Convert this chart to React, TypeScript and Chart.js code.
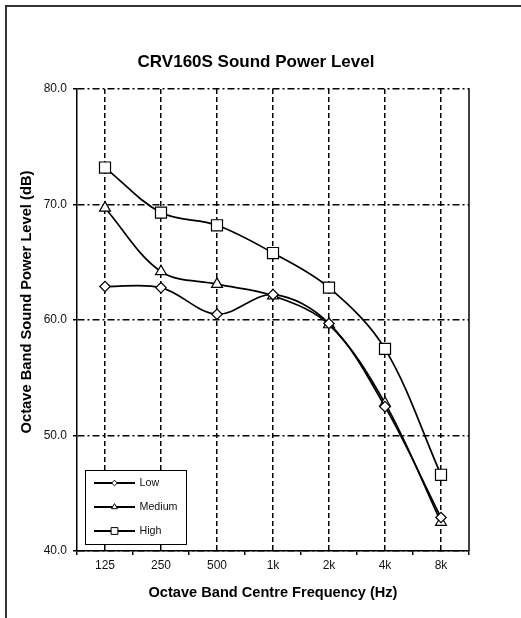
import React, { useEffect, useRef } from 'react';
import { Chart, registerables } from 'chart.js';

Chart.register(...registerables);

const categories = ['125', '250', '500', '1k', '2k', '4k', '8k'];
const lowValues = [62.9, 62.8, 60.5, 62.2, 59.7, 52.5, 42.9];
const mediumValues = [69.7, 64.2, 63.1, 62.1, 59.6, 52.8, 42.5];
const highValues = [73.2, 69.3, 68.2, 65.8, 62.8, 57.5, 46.6];
const seriesNames = ['Low', 'Medium', 'High'];
const yTicks = [40, 50, 60, 70, 80];

const chartTitle = 'CRV160S Sound Power Level';
const xTitle = 'Octave Band Centre Frequency (Hz)';
const yTitle = 'Octave Band Sound Power Level (dB)';

const FONT = "Arial, 'Liberation Sans', Helvetica, sans-serif";

const framePlugin = {
  id: 'frame',
  beforeDraw(chart: any) {
    const { ctx, width, height } = chart;
    ctx.save();
    ctx.fillStyle = '#fff';
    ctx.fillRect(0, 0, width, height);
    ctx.strokeStyle = '#333';
    ctx.lineWidth = 2;
    ctx.strokeRect(6, 6, width + 20, height + 20);
    ctx.restore();
  },
};

const rightBorderPlugin = {
  id: 'rightBorder',
  beforeDatasetsDraw(chart: any) {
    const { ctx, chartArea } = chart;
    ctx.save();
    ctx.strokeStyle = '#000';
    ctx.lineWidth = 1.5;
    ctx.beginPath();
    ctx.moveTo(chartArea.right, chartArea.top - 0.75);
    ctx.lineTo(chartArea.right, chartArea.bottom);
    ctx.stroke();
    ctx.restore();
  },
};

const yTitlePlugin = {
  id: 'yTitleText',
  afterDraw(chart: any) {
    const { ctx } = chart;
    ctx.save();
    ctx.translate(26.5, 302);
    ctx.rotate(-Math.PI / 2);
    ctx.fillStyle = '#000';
    ctx.font = `bold 14.7px ${FONT}`;
    ctx.textAlign = 'center';
    ctx.textBaseline = 'middle';
    ctx.fillText(yTitle, 0, 0);
    ctx.restore();
  },
};

function drawMarker(ctx: CanvasRenderingContext2D, style: string, x: number, y: number) {
  ctx.beginPath();
  if (style === 'rectRot') {
    const r = 2.8;
    ctx.moveTo(x - r, y);
    ctx.lineTo(x, y - r);
    ctx.lineTo(x + r, y);
    ctx.lineTo(x, y + r);
    ctx.closePath();
  } else if (style === 'triangle') {
    const r = 3.4;
    ctx.moveTo(x, y - r);
    ctx.lineTo(x + r * 0.866, y + r / 2);
    ctx.lineTo(x - r * 0.866, y + r / 2);
    ctx.closePath();
  } else {
    const h = 3.4;
    ctx.rect(x - h, y - h, 2 * h, 2 * h);
  }
  ctx.fillStyle = '#fff';
  ctx.fill();
  ctx.lineWidth = 1;
  ctx.strokeStyle = '#000';
  ctx.stroke();
}

const legendPlugin = {
  id: 'insideLegend',
  afterDraw(chart: any) {
    const { ctx } = chart;
    const boxX = 85.5;
    const boxY = 470.5;
    const boxW = 101;
    const boxH = 74;
    ctx.save();
    ctx.fillStyle = '#fff';
    ctx.fillRect(boxX, boxY, boxW, boxH);
    ctx.strokeStyle = '#000';
    ctx.lineWidth = 1;
    ctx.strokeRect(boxX, boxY, boxW, boxH);
    const rows = [483, 507, 531];
    chart.data.datasets.forEach((ds: any, i: number) => {
      const y = rows[i];
      ctx.strokeStyle = '#000';
      ctx.lineWidth = 2;
      ctx.beginPath();
      ctx.moveTo(94, y);
      ctx.lineTo(135, y);
      ctx.stroke();
      drawMarker(ctx, ds.pointStyle, 114.5, y);
      ctx.fillStyle = '#111';
      ctx.font = `10.7px ${FONT}`;
      ctx.textAlign = 'left';
      ctx.textBaseline = 'middle';
      ctx.fillText(ds.label, 139.5, y + 0.5);
    });
    ctx.restore();
  },
};

function makeDataset(label: string, data: number[], pointStyle: string, radius: number) {
  return {
    label,
    data,
    borderColor: '#000',
    borderWidth: 1.7,
    pointStyle,
    pointRadius: radius,
    pointHoverRadius: radius,
    pointBackgroundColor: '#fff',
    pointBorderColor: '#000',
    pointBorderWidth: 1.2,
    tension: 0.35,
    fill: false,
    xAxisID: 'x',
    yAxisID: 'y',
  };
}

export default function App() {
  const ref = useRef<HTMLCanvasElement>(null);

  useEffect(() => {
    if (!ref.current) return;
    const chart = new Chart(ref.current, {
      type: 'line',
      data: {
        labels: categories,
        datasets: [
          makeDataset(seriesNames[0], lowValues, 'rectRot', 5.2),
          makeDataset(seriesNames[1], mediumValues, 'triangle', 6.3),
          makeDataset(seriesNames[2], highValues, 'rect', 7.8),
        ],
      },
      options: {
        animation: false,
        responsive: false,
        maintainAspectRatio: false,
        layout: { padding: { left: 43, right: 52, top: 0, bottom: 0 } },
        plugins: {
          legend: { display: false },
          tooltip: { enabled: false },
          title: {
            display: true,
            text: chartTitle,
            color: '#000',
            font: { family: FONT, size: 17, weight: 'bold' },
            padding: { top: 52.3, bottom: 16.3 },
          },
        },
        scales: {
          x: {
            type: 'category',
            position: 'bottom',
            offset: true,
            grid: {
              display: true,
              offset: true,
              drawOnChartArea: false,
              drawTicks: true,
              tickLength: 4,
              color: '#000',
              lineWidth: 1.5,
            },
            border: { display: true, color: '#000', width: 1.5 },
            ticks: {
              color: '#111',
              font: { family: FONT, size: 12 },
              padding: 3,
              maxRotation: 0,
              autoSkip: false,
            },
            title: {
              display: true,
              text: xTitle,
              color: '#000',
              font: { family: FONT, size: 14.6, weight: 'bold' },
              padding: { top: 0, bottom: 16 },
            },
            afterFit: (s: any) => {
              s.height = 67;
            },
          },
          x2: {
            type: 'category',
            position: 'bottom',
            offset: true,
            grid: {
              display: true,
              offset: false,
              drawOnChartArea: true,
              drawTicks: false,
              color: '#000',
              lineWidth: 1.5,
            },
            border: { display: false, dash: [5, 3] },
            ticks: { display: false },
            afterFit: (s: any) => {
              s.height = 0;
            },
          },
          y: {
            type: 'linear',
            min: 40,
            max: 80,
            afterBuildTicks: (s: any) => {
              s.ticks = yTicks.map((v) => ({ value: v }));
            },
            ticks: {
              color: '#111',
              font: { family: FONT, size: 12 },
              padding: 6,
              callback: (v: any) => Number(v).toFixed(1),
            },
            grid: {
              color: '#000',
              lineWidth: 1.5,
              drawTicks: true,
              tickLength: 4,
              tickBorderDash: [],
            },
            border: { display: true, color: '#000', width: 1.5, dash: [7, 3, 2, 3] },
            afterFit: (s: any) => {
              s.width = 34;
            },
          },
        },
      } as any,
      plugins: [framePlugin, rightBorderPlugin, yTitlePlugin, legendPlugin],
    });
    return () => chart.destroy();
  }, []);

  return (
    <div style={{ position: 'fixed', left: 0, top: 0, width: 521, height: 618, background: '#fff' }}>
      <canvas ref={ref} width={521} height={618} style={{ display: 'block', width: 521, height: 618 }} />
    </div>
  );
}
